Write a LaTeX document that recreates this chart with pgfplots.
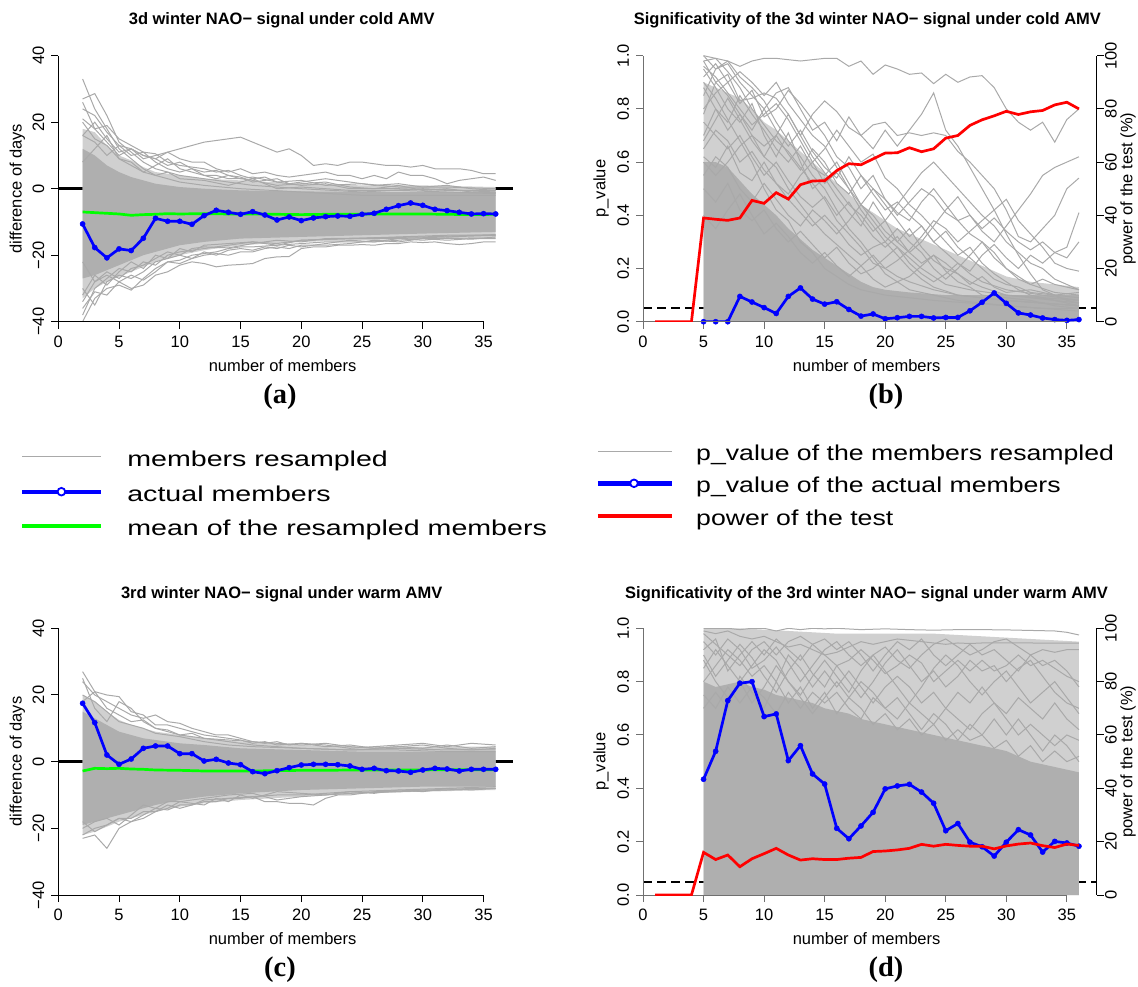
\documentclass[border=0pt]{standalone}
\usepackage{fontspec}
\setmainfont{Liberation Sans}
\newfontfamily\capfont{Liberation Serif}
\usepackage{pgfplots}
\pgfplotsset{compat=1.18}

\definecolor{rgrey}{HTML}{A9A9A9}
\definecolor{rcore}{HTML}{AFAFAF}
\definecolor{rhalo}{HTML}{D0D0D0}
\definecolor{raxis}{HTML}{707070}

\newcommand{\axfont}{\fontsize{8.25}{9.5}\selectfont}
\newcommand{\legfont}{\fontsize{10.75}{12}\selectfont}
\newcommand{\capsize}{\capfont\bfseries\fontsize{14.2}{16}\selectfont}

\pgfplotsset{
  rpanel/.style={
    scale only axis,
    xmin=0, xmax=37.45,
    clip mode=individual,
    axis x line*=bottom, axis y line*=left,
    axis line style={draw=none},
    tick align=outside,
    major tick length=3.5pt,
    tick style={black, line width=0.5pt},
    xtick={0,5,...,35},
    /pgf/number format/assume math mode=true,
    tick label style={font=\axfont},
    yticklabel style={rotate=90, anchor=south},
    label style={font=\axfont},
    title style={font=\axfont\bfseries, anchor=center, yshift=-6pt},
    xlabel={number of members},
  },
  rpower/.style={
    scale only axis,
    xmin=0, xmax=37.45, ymin=0, ymax=100,
    axis x line=none, axis y line*=right,
    axis line style={black, line width=0.5pt},
    tick align=outside,
    major tick length=3.5pt,
    tick style={black, line width=0.5pt},
    ytick={0,20,40,60,80,100},
    /pgf/number format/assume math mode=true,
    tick label style={font=\axfont},
    yticklabel style={rotate=90, anchor=north, inner sep=0.6pt},
    label style={font=\axfont},
    ylabel={power of the test (\%)},
    ylabel style={at={(axis description cs:1.0695,0.5)}, anchor=center},
  },
  members/.style={rgrey, line width=0.5pt, no marks},
  actual/.style={blue, line width=1.35pt, mark=*, mark size=1.3pt,
    mark options={fill=blue, line width=0.2pt}},
  meanline/.style={green, line width=1.35pt, no marks},
  power/.style={red, line width=1.35pt, no marks},
}

\begin{document}
\begin{tikzpicture}
\path[use as bounding box] (0,0) rectangle (569pt,493pt);

% ---------------- (a) ----------------
\begin{axis}[rpanel, at={(29.15pt,332.15pt)}, anchor=south west,
  width=227.5pt, height=133pt, ymin=-40, ymax=40,
  ytick={-40,-20,0,20,40}, yticklabels={−40,−20,0,20,40},
  title={3d winter NAO− signal under cold AMV},
  title style={at={(axis description cs:0.491,1.1316)}},
  ylabel={difference of days},
  ylabel style={at={(axis description cs:-0.0901,0.5)}, anchor=center},
  xlabel style={at={(axis description cs:0.493,-0.1654)}, anchor=center}]
\addplot[black, line width=1.25pt, no marks] coordinates {(0,0) (37.45,0)};
\addplot[fill=rhalo, draw=none] coordinates {
  (2,18) (3,17) (4,13) (5,10) (6,8.5) (7,6.5) (8,5) (9,4.5) (10,4) (12,3)
  (15,2.5) (20,1.5) (25,1) (30,1) (36,0.5)
  (36,-14.5) (30,-15) (25,-15.5) (20,-16) (15,-17) (12,-18.5) (10,-20)
  (8,-22) (7,-23.5) (6,-25) (5,-26.5) (4,-28) (3,-30) (2,-33)};
\addplot[fill=rcore, draw=none] coordinates {
  (2,12) (3,10) (4,7) (5,5) (6,3.5) (7,2.5) (8,1.5) (10,0.5) (12,0)
  (15,-0.5) (20,-0.8) (25,-1) (30,-1) (36,-1)
  (36,-13) (30,-13.5) (25,-14) (20,-14.5) (15,-15) (12,-16) (10,-17)
  (8,-19) (7,-20) (6,-21.5) (5,-23) (4,-24.5) (3,-26) (2,-27)};
\addplot[members] coordinates {(2,33) (3,24) (4,18) (5,12) (6,9) (7,6) (8,4) (10,2) (12,1) (15,0) (20,-1) (25,-2) (30,-2) (36,-2)};
\addplot[members] coordinates {(2,27) (3,28.6) (4,22) (5,14) (6,11) (7,8) (8,6) (9,5) (10,4) (12,3) (14,2) (16,1) (20,0) (25,-1) (30,0) (36,-1)};
\addplot[members] coordinates {(2,26) (3,18) (4,14) (5,10) (6,12) (7,10) (8,9) (9,11) (10,12) (11,13) (12,14) (13,14.5) (14,15) (15,15.5) (16,14) (17,12.5) (18,11) (19,12) (20,10) (21,7) (22,7.5) (23,7) (24,8) (25,8) (26,7.5) (27,7) (28,7) (29,6.5) (30,7) (31,6) (32,6) (33,6) (34,5.5) (35,4.5) (36,4.5)};
\addplot[members] coordinates {(2,16) (3,20) (4,15) (5,11) (6,12) (7,9) (8,10) (9,11) (10,9) (11,8) (12,8) (13,6) (14,5) (15,6) (16,4.5) (17,5) (18,4) (19,3.5) (20,4) (21,4.5) (22,5) (23,4) (24,4) (25,3) (26,4) (27,3) (28,5) (29,4) (30,4) (31,3) (32,1.5) (33,2.5) (34,3) (35,3.5) (36,2.5)};
\addplot[members] coordinates {(2,20) (3,15) (4,13) (5,9) (6,7) (7,5) (8,7) (9,9) (10,6) (11,5) (12,4) (13,3) (14,4) (15,3.5) (16,2) (17,2.5) (18,3) (19,1.5) (20,2) (22,3) (24,2) (26,1) (28,1.5) (30,0.5) (32,1) (34,0) (36,-0.5)};
\addplot[members] coordinates {(2,16) (3,14) (4,10) (5,13) (6,10) (7,11) (8,8) (9,6) (10,5) (11,6) (12,4) (13,4) (14,3) (15,3) (16,2.5) (18,1) (20,1.5) (22,2) (24,0.5) (26,0) (28,1) (30,-0.5) (32,0) (34,-1) (36,-1)};
\addplot[members] coordinates {(2,8) (3,12) (4,16) (5,9) (6,8) (7,5) (8,4) (9,5) (10,3) (12,2.5) (14,1) (16,3) (18,0) (20,0.5) (24,-0.5) (28,-0.5) (32,-1) (36,-1.5)};
\addplot[members] coordinates {(2,24) (3,22) (4,17) (5,13) (6,12) (7,10) (8,9) (9,7) (10,8) (11,6) (12,5) (13,5.5) (14,4) (15,3) (16,3.5) (18,2) (20,2.5) (22,1) (25,1.5) (28,0.5) (32,0.5) (36,0)};
\addplot[members] coordinates {(2,21) (3,18) (4,19) (5,15) (6,13) (7,11) (8,10.5) (9,8) (10,7) (11,6.5) (12,6) (13,5) (14,5.5) (15,4) (16,3) (17,3.5) (18,2) (20,1) (22,1.5) (24,0) (28,0) (32,-0.5) (36,-0.5)};
\addplot[members] coordinates {(2,-40) (3,-33) (4,-30) (5,-29) (6,-30.5) (7,-27) (8,-24) (9,-22) (10,-21.5) (11,-20) (12,-19.5) (13,-19) (14,-18) (15,-17.5) (16,-17.5) (18,-17) (20,-16.5) (22,-16) (24,-16) (26,-16) (28,-15.5) (30,-15) (32,-15.5) (34,-15) (36,-15)};
\addplot[members] coordinates {(2,-36) (3,-31) (4,-32) (5,-28) (6,-30) (7,-29) (8,-26) (9,-25) (10,-23) (11,-22) (12,-22.5) (13,-23.5) (14,-23) (15,-22.8) (16,-22.5) (17,-21) (18,-20.5) (19,-20.4) (20,-18) (21,-17.5) (22,-17.5) (23,-17) (24,-17) (25,-16.8) (26,-17) (27,-16.5) (28,-16.5) (29,-16) (30,-16.2) (31,-16) (32,-16.5) (33,-16.8) (34,-16.5) (35,-16) (36,-16)};
\addplot[members] coordinates {(2,-30) (3,-35) (4,-28) (5,-26) (6,-27) (7,-25) (8,-22) (9,-21) (10,-20) (11,-21) (12,-19) (13,-20) (14,-18.5) (15,-18) (16,-18.5) (17,-17.5) (18,-18) (19,-17) (20,-17.5) (22,-16.5) (24,-15.5) (26,-16) (28,-15) (30,-15.5) (32,-14.8) (34,-15.2) (36,-14.5)};
\addplot[members] coordinates {(2,-38) (3,-30) (4,-27) (5,-24) (6,-25) (7,-22) (8,-23) (9,-20) (10,-19) (12,-18) (14,-17) (16,-16) (18,-16.5) (20,-15.5) (24,-15) (28,-14.5) (32,-14) (36,-14)};
\addplot[members] coordinates {(2,-22) (3,-28) (4,-25) (5,-27) (6,-24) (7,-23) (8,-21) (9,-19) (10,-20) (11,-18) (12,-17.5) (14,-17.8) (16,-16.5) (18,-15.5) (20,-16) (22,-15) (26,-14.8) (30,-14.5) (36,-13.8)};
\addplot[members] coordinates {(2,-32) (3,-26) (4,-29) (5,-25) (6,-22) (7,-24) (8,-20) (9,-21) (10,-18) (11,-19) (12,-17) (14,-16.5) (16,-16) (18,-17) (20,-15.5) (24,-15) (28,-15) (32,-14.5) (36,-14)};
\addplot[members] coordinates {(2,-34) (3,-28) (4,-26) (5,-28) (6,-26) (7,-27.5) (8,-25) (9,-22) (10,-22.5) (11,-21) (12,-20) (13,-19.5) (14,-20) (15,-19) (16,-19) (17,-18) (18,-17.5) (19,-18) (20,-17) (22,-17) (24,-16.5) (26,-15.5) (28,-16) (30,-15) (32,-15) (34,-14.8) (36,-14.8)};
\addplot[meanline] coordinates {(2,-7.0) (3,-7.2) (4,-7.4) (5,-7.6) (6,-8.0) (7,-7.8) (8,-7.7) (9,-7.5) (10,-7.6) (12,-7.5) (14,-7.6) (16,-7.6) (18,-7.7) (20,-7.8) (22,-7.7) (24,-7.7) (26,-7.6) (28,-7.6) (30,-7.6) (32,-7.7) (34,-7.8) (36,-7.7)};
\addplot[actual] coordinates {(2,-10.6) (3,-17.7) (4,-20.8) (5,-18.1) (6,-18.6) (7,-14.9) (8,-8.9) (9,-9.8) (10,-9.8) (11,-10.7) (12,-8.1) (13,-6.5) (14,-7.1) (15,-7.7) (16,-6.9) (17,-7.9) (18,-9.4) (19,-8.5) (20,-9.6) (21,-8.8) (22,-8.4) (23,-8.2) (24,-8.3) (25,-7.7) (26,-7.4) (27,-6.2) (28,-5.1) (29,-4.3) (30,-5.0) (31,-6.2) (32,-6.6) (33,-7.1) (34,-7.6) (35,-7.5) (36,-7.6)};
\draw[black, line width=0.5pt] (axis cs:0,-40) -- (axis cs:0,40);
\draw[black, line width=0.5pt] (axis cs:0,-40) -- (axis cs:35,-40);
\end{axis}

% ---------------- (b) ----------------
\begin{axis}[rpanel, at={(321.5pt,332.15pt)}, anchor=south west,
  width=226.75pt, height=133pt, ymin=0, ymax=1,
  tick style={raxis, line width=0.5pt},
  ytick={0,0.2,0.4,0.6,0.8,1}, yticklabels={0.0,0.2,0.4,0.6,0.8,1.0},
  title={Significativity of the 3d winter NAO− signal under cold AMV},
  title style={at={(axis description cs:0.4948,1.1316)}},
  ylabel={p\_value},
  ylabel style={at={(axis description cs:-0.0926,0.5)}, anchor=center},
  xlabel style={at={(axis description cs:0.493,-0.1654)}, anchor=center}]
\addplot[black, line width=1pt, dash pattern=on 4.5pt off 2.5pt, no marks] coordinates {(0,0.05) (37.45,0.05)};
\addplot[fill=rhalo, draw=none] coordinates {
  (5,0.9) (6,0.88) (7,0.86) (8,0.84) (9,0.8) (10,0.75) (11,0.72) (12,0.68)
  (13,0.64) (14,0.6) (15,0.56) (16,0.52) (17,0.48) (18,0.44) (19,0.41)
  (20,0.38) (21,0.35) (22,0.33) (23,0.31) (24,0.29) (25,0.27) (26,0.25)
  (27,0.23) (28,0.21) (29,0.19) (30,0.17) (32,0.15) (34,0.14) (36,0.13)
  (36,0) (5,0)};
\addplot[fill=rcore, draw=none] coordinates {
  (5,0.6) (6,0.6) (7,0.58) (8,0.53) (9,0.48) (10,0.44) (11,0.4) (12,0.35)
  (13,0.31) (14,0.27) (15,0.24) (16,0.21) (17,0.18) (18,0.15) (19,0.13)
  (20,0.12) (22,0.11) (25,0.1) (28,0.1) (30,0.1) (33,0.1) (36,0.1)
  (36,0) (5,0)};
\addplot[members] coordinates {(5,1.0) (6,0.99) (7,0.98) (8,0.96) (9,0.98) (10,0.99) (11,0.99) (12,0.985) (13,0.98) (14,0.985) (15,0.99) (16,0.99) (17,0.96) (18,0.98) (19,0.93) (20,0.965) (21,0.95) (22,0.93) (23,0.935) (24,0.895) (25,0.93) (26,0.9) (27,0.92) (28,0.925) (29,0.88) (30,0.8) (31,0.75) (32,0.72) (33,0.75) (34,0.675) (35,0.76) (36,0.8)};
\addplot[members] coordinates {(5,1.0) (6,0.95) (7,0.97) (8,0.9) (9,0.85) (10,0.8) (11,0.86) (12,0.88) (13,0.8) (14,0.72) (15,0.75) (16,0.68) (17,0.77) (18,0.7) (19,0.65) (20,0.72) (21,0.66) (22,0.72) (23,0.78) (24,0.86) (25,0.72) (26,0.66) (27,0.58) (28,0.5) (29,0.42) (30,0.33) (31,0.25) (32,0.18) (33,0.12) (34,0.1) (35,0.08) (36,0.07)};
\addplot[members] coordinates {(5,0.98) (6,0.9) (7,0.93) (8,0.83) (9,0.84) (10,0.86) (11,0.84) (12,0.78) (13,0.7) (14,0.78) (15,0.83) (16,0.79) (17,0.73) (18,0.7) (19,0.74) (20,0.75) (21,0.7) (22,0.71) (23,0.7) (24,0.71) (25,0.7) (26,0.64) (27,0.6) (28,0.55) (29,0.5) (30,0.42) (31,0.32) (32,0.3) (33,0.35) (34,0.4) (35,0.5) (36,0.54)};
\addplot[members] coordinates {(5,0.85) (6,0.95) (7,0.98) (8,0.92) (9,0.88) (10,0.83) (11,0.75) (12,0.68) (13,0.62) (14,0.55) (15,0.5) (16,0.42) (17,0.35) (18,0.3) (19,0.24) (20,0.18) (21,0.15) (22,0.12) (24,0.1) (26,0.08) (28,0.07) (30,0.06) (33,0.05) (36,0.05)};
\addplot[members] coordinates {(5,0.95) (6,0.88) (7,0.8) (8,0.75) (9,0.82) (10,0.7) (11,0.62) (12,0.71) (13,0.6) (14,0.5) (15,0.54) (16,0.47) (17,0.41) (18,0.36) (19,0.45) (20,0.38) (21,0.3) (22,0.26) (23,0.22) (24,0.25) (25,0.19) (26,0.15) (27,0.13) (28,0.1) (30,0.09) (32,0.08) (34,0.06) (36,0.05)};
\addplot[members] coordinates {(5,0.8) (6,0.86) (7,0.9) (8,0.82) (9,0.87) (10,0.77) (11,0.8) (12,0.87) (13,0.82) (14,0.76) (15,0.7) (16,0.62) (17,0.58) (18,0.5) (19,0.55) (20,0.46) (21,0.4) (22,0.45) (23,0.5) (24,0.47) (25,0.41) (26,0.38) (27,0.33) (28,0.3) (29,0.26) (30,0.2) (31,0.16) (32,0.14) (34,0.11) (36,0.1)};
\addplot[members] coordinates {(5,0.7) (6,0.8) (7,0.75) (8,0.85) (9,0.78) (10,0.72) (11,0.65) (12,0.6) (13,0.66) (14,0.58) (15,0.55) (16,0.6) (17,0.52) (18,0.44) (19,0.4) (20,0.34) (21,0.3) (22,0.35) (23,0.28) (24,0.23) (25,0.2) (26,0.18) (27,0.15) (28,0.13) (30,0.1) (32,0.09) (34,0.08) (36,0.06)};
\addplot[members] coordinates {(5,0.65) (6,0.72) (7,0.68) (8,0.6) (9,0.64) (10,0.57) (11,0.52) (12,0.48) (13,0.55) (14,0.6) (15,0.65) (16,0.72) (17,0.66) (18,0.6) (19,0.63) (20,0.54) (21,0.5) (22,0.44) (23,0.4) (24,0.35) (25,0.3) (26,0.25) (27,0.28) (28,0.22) (29,0.18) (30,0.15) (31,0.12) (32,0.1) (34,0.08) (36,0.07)};
\addplot[members] coordinates {(5,0.55) (6,0.62) (7,0.58) (8,0.5) (9,0.45) (10,0.52) (11,0.46) (12,0.4) (13,0.36) (14,0.42) (15,0.38) (16,0.33) (17,0.38) (18,0.44) (19,0.5) (20,0.46) (21,0.41) (22,0.38) (23,0.45) (24,0.5) (25,0.44) (26,0.38) (27,0.4) (28,0.34) (29,0.3) (30,0.36) (31,0.42) (32,0.48) (33,0.55) (34,0.58) (35,0.6) (36,0.62)};
\addplot[members] coordinates {(5,0.75) (6,0.7) (7,0.65) (8,0.7) (9,0.62) (10,0.55) (11,0.6) (12,0.53) (13,0.47) (14,0.43) (15,0.47) (16,0.4) (17,0.45) (18,0.38) (19,0.32) (20,0.28) (21,0.32) (22,0.26) (23,0.3) (24,0.36) (25,0.42) (26,0.47) (27,0.4) (28,0.35) (29,0.39) (30,0.34) (31,0.3) (32,0.27) (33,0.3) (34,0.26) (35,0.28) (36,0.41)};
\addplot[members] coordinates {(5,0.6) (6,0.55) (7,0.6) (8,0.66) (9,0.7) (10,0.62) (11,0.58) (12,0.5) (13,0.44) (14,0.38) (15,0.33) (16,0.29) (17,0.25) (18,0.21) (19,0.25) (20,0.2) (21,0.23) (22,0.27) (23,0.32) (24,0.38) (25,0.35) (26,0.3) (27,0.34) (28,0.38) (29,0.42) (30,0.46) (31,0.38) (32,0.33) (33,0.28) (34,0.22) (35,0.2) (36,0.19)};
\addplot[members] coordinates {(5,0.9) (6,0.84) (7,0.76) (8,0.68) (9,0.6) (10,0.5) (11,0.42) (12,0.38) (13,0.3) (14,0.26) (15,0.2) (16,0.17) (17,0.14) (18,0.12) (20,0.1) (22,0.09) (24,0.08) (27,0.07) (30,0.06) (33,0.05) (36,0.04)};
\addplot[members] coordinates {(5,0.5) (6,0.45) (7,0.52) (8,0.42) (9,0.38) (10,0.42) (11,0.35) (12,0.3) (13,0.34) (14,0.29) (15,0.24) (16,0.28) (17,0.22) (18,0.18) (19,0.2) (20,0.24) (21,0.28) (22,0.22) (23,0.18) (24,0.15) (25,0.18) (26,0.22) (27,0.19) (28,0.25) (29,0.29) (30,0.24) (31,0.2) (32,0.25) (33,0.22) (34,0.26) (35,0.24) (36,0.3)};
\addplot[members] coordinates {(5,0.4) (6,0.35) (7,0.42) (8,0.48) (9,0.4) (10,0.33) (11,0.37) (12,0.32) (13,0.26) (14,0.22) (15,0.26) (16,0.21) (17,0.17) (18,0.21) (19,0.16) (20,0.13) (21,0.15) (22,0.17) (23,0.21) (24,0.25) (25,0.22) (26,0.18) (27,0.14) (28,0.17) (29,0.13) (30,0.11) (32,0.12) (34,0.1) (36,0.11)};
\addplot[members] coordinates {(5,0.88) (6,0.8) (7,0.72) (8,0.78) (9,0.7) (10,0.66) (11,0.7) (12,0.63) (13,0.57) (14,0.65) (15,0.6) (16,0.52) (17,0.48) (18,0.55) (19,0.48) (20,0.42) (21,0.45) (22,0.4) (23,0.36) (24,0.3) (25,0.34) (26,0.28) (27,0.24) (28,0.2) (29,0.16) (30,0.14) (31,0.13) (32,0.11) (34,0.1) (36,0.09)};
\addplot[members] coordinates {(5,0.98) (6,0.99) (7,0.94) (8,0.88) (9,0.8) (10,0.74) (11,0.68) (12,0.64) (13,0.58) (14,0.52) (15,0.46) (16,0.38) (17,0.33) (18,0.28) (19,0.22) (20,0.2) (21,0.17) (22,0.15) (24,0.12) (26,0.1) (28,0.09) (30,0.08) (33,0.07) (36,0.06)};
\addplot[members] coordinates {(5,0.62) (6,0.58) (7,0.66) (8,0.56) (9,0.53) (10,0.6) (11,0.52) (12,0.46) (13,0.41) (14,0.36) (15,0.4) (16,0.35) (17,0.29) (18,0.25) (19,0.28) (20,0.3) (21,0.35) (22,0.3) (23,0.26) (24,0.2) (25,0.16) (26,0.2) (27,0.25) (28,0.3) (29,0.24) (30,0.2) (31,0.17) (32,0.14) (33,0.16) (34,0.14) (35,0.13) (36,0.12)};
\addplot[members] coordinates {(5,0.92) (6,0.97) (7,0.9) (8,0.94) (9,0.9) (10,0.85) (11,0.9) (12,0.82) (13,0.76) (14,0.7) (15,0.66) (16,0.58) (17,0.5) (18,0.42) (19,0.36) (20,0.3) (21,0.25) (22,0.2) (23,0.16) (24,0.13) (26,0.1) (30,0.08) (36,0.06)};
\addplot[members] coordinates {(5,0.78) (6,0.9) (7,0.85) (8,0.78) (9,0.72) (10,0.8) (11,0.72) (12,0.66) (13,0.72) (14,0.64) (15,0.58) (16,0.54) (17,0.62) (18,0.55) (19,0.5) (20,0.44) (21,0.38) (22,0.32) (23,0.36) (24,0.3) (25,0.26) (26,0.22) (27,0.18) (28,0.15) (30,0.12) (33,0.1) (36,0.08)};
\addplot[members] coordinates {(5,0.68) (6,0.76) (7,0.84) (8,0.76) (9,0.68) (10,0.62) (11,0.7) (12,0.78) (13,0.7) (14,0.62) (15,0.56) (16,0.5) (17,0.44) (18,0.4) (19,0.34) (20,0.38) (21,0.44) (22,0.5) (23,0.56) (24,0.6) (25,0.55) (26,0.5) (27,0.45) (28,0.4) (29,0.36) (30,0.3) (31,0.26) (32,0.22) (33,0.2) (34,0.16) (36,0.12)};
\addplot[members] coordinates {(5,0.96) (6,0.92) (7,0.86) (8,0.8) (9,0.74) (10,0.78) (11,0.82) (12,0.76) (13,0.68) (14,0.6) (15,0.52) (16,0.56) (17,0.5) (18,0.44) (19,0.38) (20,0.32) (21,0.28) (22,0.24) (23,0.2) (24,0.17) (25,0.14) (27,0.12) (30,0.1) (36,0.08)};
\addplot[actual] coordinates {(5,0) (6,0) (7,0) (8,0.095) (9,0.074) (10,0.053) (11,0.031) (12,0.095) (13,0.127) (14,0.085) (15,0.066) (16,0.075) (17,0.046) (18,0.021) (19,0.029) (20,0.011) (21,0.015) (22,0.020) (23,0.020) (24,0.014) (25,0.016) (26,0.016) (27,0.041) (28,0.073) (29,0.108) (30,0.069) (31,0.033) (32,0.025) (33,0.014) (34,0.008) (35,0.005) (36,0.008)};
\draw[raxis, line width=0.5pt] (axis cs:0,0) -- (axis cs:0,1);
\draw[raxis, line width=0.5pt] (axis cs:0,0) -- (axis cs:35,0);
\end{axis}
\begin{axis}[rpower, at={(321.5pt,332.15pt)}, anchor=south west,
  width=226.75pt, height=133pt]
\addplot[power] coordinates {(1,0) (2,0) (3,0) (4,0) (5,39) (6,38.5) (7,38.1) (8,39) (9,45.6) (10,44.5) (11,48.5) (12,46.1) (13,51.5) (14,52.9) (15,53) (16,56.8) (17,59.4) (18,59) (19,61.2) (20,63.4) (21,63.5) (22,65.4) (23,63.9) (24,65) (25,69) (26,70) (27,73.8) (28,75.9) (29,77.4) (30,79.1) (31,77.9) (32,78.9) (33,79.4) (34,81.5) (35,82.5) (36,80)};
\end{axis}

% ---------------- (c) ----------------
\begin{axis}[rpanel, at={(29.15pt,45.5pt)}, anchor=south west,
  width=227.5pt, height=133.35pt, ymin=-40, ymax=40,
  ytick={-40,-20,0,20,40}, yticklabels={−40,−20,0,20,40},
  title={3rd winter NAO− signal under warm AMV},
  title style={at={(axis description cs:0.491,1.1286)}},
  ylabel={difference of days},
  ylabel style={at={(axis description cs:-0.0901,0.5)}, anchor=center},
  xlabel style={at={(axis description cs:0.493,-0.162)}, anchor=center}]
\addplot[black, line width=1.25pt, no marks] coordinates {(0,0) (37.45,0)};
\addplot[fill=rhalo, draw=none] coordinates {
  (2,20) (3,18) (4,15) (5,12.5) (6,11) (7,10) (8,9) (10,8) (12,7) (15,6)
  (20,5) (25,4.5) (30,4.5) (36,4.5)
  (36,-8.5) (30,-9) (25,-9.5) (20,-10.5) (15,-11.5) (12,-12.5) (10,-13.5)
  (8,-15) (7,-16) (6,-17) (5,-18) (4,-19.5) (3,-21) (2,-22)};
\addplot[fill=rcore, draw=none] coordinates {
  (2,15) (3,13) (4,11) (5,9) (6,8) (7,7) (8,6.5) (10,5.5) (12,5) (15,4)
  (20,3.5) (25,3) (30,3) (36,3)
  (36,-7.5) (30,-7.5) (25,-8) (20,-8.5) (15,-9.5) (12,-10.5) (10,-11.5)
  (8,-13) (7,-14) (6,-15) (5,-16) (4,-17) (3,-18) (2,-19)};
\addplot[members] coordinates {(2,27) (3,21) (4,20) (5,19.5) (6,15) (7,14) (8,11) (9,11) (10,10) (11,9) (12,8) (13,7.5) (14,7) (15,6.5) (16,5.5) (17,6) (18,5) (20,5.5) (22,5) (24,4) (26,4.5) (28,5) (30,5.5) (32,4.5) (34,5.5) (36,5)};
\addplot[members] coordinates {(2,24) (3,20) (4,18) (5,16) (6,14) (7,13) (8,14) (9,12) (10,11.5) (11,10) (12,9) (13,8) (14,8) (15,7) (16,6) (17,5.5) (18,6) (19,5) (20,5.5) (22,4.5) (24,5) (26,4) (28,4.5) (30,4) (32,5) (34,4) (36,4.5)};
\addplot[members] coordinates {(2,25) (3,16) (4,12) (5,18) (6,16) (7,12) (8,10) (9,9) (10,8) (12,7) (14,6) (16,5) (18,4.5) (20,4) (24,3.5) (28,4) (32,3.5) (36,3.5)};
\addplot[members] coordinates {(2,20) (3,18) (4,15) (5,12) (6,11) (7,10) (8,8.5) (10,7.5) (12,6) (14,5) (16,4.5) (20,4) (24,3.5) (28,3.5) (32,3) (36,3)};
\addplot[members] coordinates {(2,18) (3,21) (4,16) (5,14) (6,12) (7,12.5) (8,10) (9,9.5) (10,8) (11,8.5) (12,7) (14,6.5) (16,6) (18,5.5) (20,5) (22,5.5) (24,4.5) (26,4) (28,4.5) (30,5) (32,4) (34,3.5) (36,4)};
\addplot[members] coordinates {(2,-23) (3,-22) (4,-26) (5,-20) (6,-18) (7,-16) (8,-14) (9,-14.5) (10,-13) (11,-13) (12,-12) (13,-12) (14,-11) (15,-11) (16,-10.5) (17,-12) (18,-12) (19,-12.5) (20,-12.5) (21,-13) (22,-11) (23,-10) (24,-10) (25,-9.5) (26,-9) (28,-9) (30,-8.5) (32,-8.5) (34,-8) (36,-8)};
\addplot[members] coordinates {(2,-22) (3,-20) (4,-19) (5,-17) (6,-17) (7,-15) (8,-15) (9,-13) (10,-14) (11,-13) (12,-11.5) (14,-11) (16,-10.5) (18,-10) (20,-10) (22,-9.5) (24,-9) (28,-8.5) (32,-8) (36,-7.5)};
\addplot[members] coordinates {(2,-20) (3,-18) (4,-17) (5,-19) (6,-16) (7,-13) (8,-14) (9,-12) (10,-12) (12,-11) (14,-10) (16,-9.5) (18,-11.5) (20,-10.5) (24,-9.5) (28,-9) (32,-8.5) (36,-8)};
\addplot[members] coordinates {(2,-18) (3,-21) (4,-19) (5,-17) (6,-18) (7,-17) (8,-15) (9,-14) (10,-12) (11,-12.5) (12,-13) (13,-11) (14,-12) (15,-10) (16,-11) (17,-10) (18,-9) (20,-9.5) (22,-10) (24,-9) (26,-9.5) (28,-8.5) (30,-9) (32,-8) (34,-8.5) (36,-8)};
\addplot[meanline] coordinates {(2,-2.8) (3,-2.0) (4,-2.1) (5,-2.0) (6,-2.2) (7,-2.3) (8,-2.5) (10,-2.6) (12,-2.8) (14,-2.8) (16,-2.8) (18,-2.7) (20,-2.6) (22,-2.6) (24,-2.5) (26,-2.5) (28,-2.5) (30,-2.5) (32,-2.4) (34,-2.4) (36,-2.4)};
\addplot[actual] coordinates {(2,17.5) (3,11.7) (4,2.0) (5,-0.8) (6,0.8) (7,4.0) (8,4.7) (9,4.7) (10,2.4) (11,2.4) (12,0.2) (13,0.7) (14,-0.4) (15,-0.9) (16,-3.0) (17,-3.6) (18,-2.7) (19,-1.8) (20,-1.0) (21,-0.8) (22,-0.8) (23,-0.9) (24,-1.3) (25,-2.3) (26,-2.0) (27,-2.7) (28,-2.8) (29,-3.2) (30,-2.5) (31,-2.0) (32,-2.2) (33,-2.8) (34,-2.3) (35,-2.3) (36,-2.3)};
\draw[black, line width=0.5pt] (axis cs:0,-40) -- (axis cs:0,40);
\draw[black, line width=0.5pt] (axis cs:0,-40) -- (axis cs:35,-40);
\end{axis}

% ---------------- (d) ----------------
\begin{axis}[rpanel, at={(321.5pt,45.5pt)}, anchor=south west,
  width=226.75pt, height=133.35pt, ymin=0, ymax=1,
  tick style={raxis, line width=0.5pt},
  ytick={0,0.2,0.4,0.6,0.8,1}, yticklabels={0.0,0.2,0.4,0.6,0.8,1.0},
  title={Significativity of the 3rd winter NAO− signal under warm AMV},
  title style={at={(axis description cs:0.493,1.1286)}},
  ylabel={p\_value},
  ylabel style={at={(axis description cs:-0.0926,0.5)}, anchor=center},
  xlabel style={at={(axis description cs:0.493,-0.162)}, anchor=center}]
\addplot[black, line width=1pt, dash pattern=on 4.5pt off 2.5pt, no marks] coordinates {(0,0.05) (37.45,0.05)};
\addplot[fill=rhalo, draw=none] coordinates {
  (5,1.0) (8,1.0) (12,0.99) (16,0.98) (20,0.98) (24,0.98) (28,0.97)
  (32,0.96) (36,0.95) (36,0) (5,0)};
\addplot[fill=rcore, draw=none] coordinates {
  (5,0.8) (6,0.78) (7,0.79) (8,0.8) (9,0.78) (10,0.77) (11,0.75) (12,0.74)
  (13,0.73) (14,0.72) (15,0.7) (16,0.69) (17,0.68) (18,0.66) (19,0.65)
  (20,0.64) (22,0.62) (24,0.6) (26,0.58) (28,0.56) (30,0.54) (32,0.5)
  (34,0.48) (36,0.46) (36,0) (5,0)};
\addplot[members] coordinates {(5,1.0) (6,1.0) (7,1.0) (8,0.995) (9,1.0) (10,1.0) (11,0.99) (12,1.0) (13,0.995) (14,1.0) (15,0.998) (16,1.0) (18,0.995) (20,0.998) (22,0.995) (24,0.993) (26,0.995) (28,0.995) (30,0.994) (32,0.992) (34,0.99) (35,0.985) (36,0.975)};
\addplot[members] coordinates {(5,0.99) (6,0.98) (7,0.99) (8,0.97) (9,0.96) (10,0.97) (11,0.95) (12,0.93) (13,0.94) (14,0.92) (15,0.9) (16,0.91) (17,0.93) (18,0.95) (19,0.94) (20,0.95) (21,0.96) (22,0.955) (23,0.95) (24,0.945) (25,0.94) (26,0.945) (27,0.943) (28,0.945) (30,0.945) (32,0.945) (34,0.944) (36,0.944)};
\addplot[members] coordinates {(5,0.95) (6,0.9) (7,0.96) (8,0.92) (9,0.85) (10,0.88) (11,0.93) (12,0.87) (13,0.8) (14,0.86) (15,0.92) (16,0.95) (17,0.9) (18,0.86) (19,0.9) (20,0.93) (21,0.88) (22,0.85) (23,0.9) (24,0.94) (25,0.96) (26,0.93) (27,0.9) (28,0.92) (29,0.95) (30,0.96) (31,0.93) (32,0.9) (33,0.92) (34,0.91) (35,0.92) (36,0.92)};
\addplot[members] coordinates {(5,0.9) (6,0.82) (7,0.88) (8,0.94) (9,0.89) (10,0.82) (11,0.76) (12,0.84) (13,0.9) (14,0.83) (15,0.78) (16,0.86) (17,0.8) (18,0.74) (19,0.8) (20,0.87) (21,0.92) (22,0.86) (23,0.8) (24,0.84) (25,0.78) (26,0.82) (27,0.88) (28,0.84) (29,0.86) (30,0.8) (31,0.85) (32,0.88) (33,0.82) (34,0.76) (35,0.72) (36,0.7)};
\addplot[members] coordinates {(5,0.85) (6,0.92) (7,0.86) (8,0.8) (9,0.86) (10,0.92) (11,0.88) (12,0.8) (13,0.75) (14,0.82) (15,0.88) (16,0.82) (17,0.76) (18,0.84) (19,0.9) (20,0.84) (21,0.78) (22,0.72) (23,0.78) (24,0.85) (25,0.9) (26,0.86) (27,0.8) (28,0.75) (29,0.8) (30,0.84) (31,0.78) (32,0.72) (33,0.76) (34,0.8) (35,0.74) (36,0.68)};
\addplot[members] coordinates {(5,0.98) (6,0.94) (7,0.9) (8,0.86) (9,0.92) (10,0.95) (11,0.9) (12,0.95) (13,0.97) (14,0.94) (15,0.9) (16,0.86) (17,0.88) (18,0.92) (19,0.88) (20,0.83) (21,0.86) (22,0.9) (23,0.87) (24,0.8) (25,0.84) (26,0.88) (27,0.84) (28,0.88) (29,0.84) (30,0.86) (31,0.9) (32,0.86) (33,0.88) (34,0.85) (35,0.82) (36,0.8)};
\addplot[members] coordinates {(5,0.8) (6,0.86) (7,0.92) (8,0.88) (9,0.82) (10,0.86) (11,0.8) (12,0.9) (13,0.85) (14,0.78) (15,0.84) (16,0.78) (17,0.84) (18,0.78) (19,0.72) (20,0.78) (21,0.82) (22,0.78) (23,0.72) (24,0.76) (25,0.7) (26,0.76) (27,0.72) (28,0.78) (29,0.72) (30,0.68) (31,0.74) (32,0.7) (33,0.66) (34,0.72) (35,0.66) (36,0.62)};
\addplot[members] coordinates {(5,0.92) (6,0.96) (7,0.84) (8,0.9) (9,0.95) (10,0.9) (11,0.96) (12,0.92) (13,0.88) (14,0.94) (15,0.96) (16,0.92) (17,0.95) (18,0.9) (19,0.84) (20,0.9) (21,0.95) (22,0.92) (23,0.96) (24,0.9) (25,0.86) (26,0.9) (27,0.94) (28,0.9) (29,0.92) (30,0.88) (31,0.84) (32,0.9) (33,0.86) (34,0.88) (35,0.84) (36,0.78)};
\addplot[members] coordinates {(5,0.75) (6,0.7) (7,0.78) (8,0.72) (9,0.78) (10,0.74) (11,0.68) (12,0.76) (13,0.7) (14,0.76) (15,0.72) (16,0.76) (17,0.7) (18,0.66) (19,0.74) (20,0.7) (21,0.66) (22,0.72) (23,0.68) (24,0.64) (25,0.7) (26,0.66) (27,0.62) (28,0.68) (29,0.72) (30,0.66) (31,0.6) (32,0.64) (33,0.6) (34,0.56) (35,0.6) (36,0.58)};
\addplot[members] coordinates {(5,0.7) (6,0.76) (7,0.7) (8,0.82) (9,0.76) (10,0.7) (11,0.8) (12,0.72) (13,0.78) (14,0.7) (15,0.76) (16,0.68) (17,0.74) (18,0.7) (19,0.64) (20,0.68) (21,0.62) (22,0.66) (23,0.6) (24,0.64) (25,0.58) (26,0.62) (27,0.58) (28,0.6) (29,0.55) (30,0.58) (31,0.52) (32,0.56) (33,0.5) (34,0.54) (35,0.5) (36,0.52)};
\addplot[members] coordinates {(5,0.88) (6,0.8) (7,0.74) (8,0.8) (9,0.72) (10,0.78) (11,0.86) (12,0.8) (13,0.74) (14,0.68) (15,0.74) (16,0.8) (17,0.74) (18,0.8) (19,0.76) (20,0.7) (21,0.74) (22,0.68) (23,0.62) (24,0.68) (25,0.64) (26,0.58) (27,0.64) (28,0.6) (29,0.66) (30,0.6) (31,0.66) (32,0.6) (33,0.54) (34,0.6) (35,0.56) (36,0.5)};
\addplot[actual] coordinates {(5,0.434) (6,0.539) (7,0.729) (8,0.794) (9,0.800) (10,0.669) (11,0.679) (12,0.504) (13,0.560) (14,0.454) (15,0.416) (16,0.250) (17,0.211) (18,0.259) (19,0.310) (20,0.398) (21,0.409) (22,0.415) (23,0.386) (24,0.344) (25,0.241) (26,0.268) (27,0.198) (28,0.181) (29,0.146) (30,0.198) (31,0.245) (32,0.225) (33,0.161) (34,0.201) (35,0.195) (36,0.183)};
\draw[raxis, line width=0.5pt] (axis cs:0,0) -- (axis cs:0,1);
\draw[raxis, line width=0.5pt] (axis cs:0,0) -- (axis cs:35,0);
\end{axis}
\begin{axis}[rpower, at={(321.5pt,45.5pt)}, anchor=south west,
  width=226.75pt, height=133.35pt]
\addplot[power] coordinates {(1,0) (2,0) (3,0) (4,0) (5,16) (6,13.3) (7,15) (8,10.6) (9,13.6) (10,15.5) (11,17.5) (12,15) (13,13.1) (14,13.6) (15,13.3) (16,13.3) (17,13.8) (18,14.1) (19,16.3) (20,16.5) (21,16.9) (22,17.5) (23,19) (24,18.3) (25,19) (26,18.6) (27,18.3) (28,18.3) (29,17.3) (30,18.4) (31,19.1) (32,19.5) (33,18.5) (34,17.8) (35,19.1) (36,18.6)};
\end{axis}

% ---------------- captions ----------------
\node[font=\capsize] at (140pt,294.65pt) {(a)};
\node[font=\capsize] at (443pt,294.65pt) {(b)};
\node[font=\capsize] at (140pt,8pt) {(c)};
\node[font=\capsize] at (443pt,8pt) {(d)};

% ---------------- legends ----------------
\draw[rgrey, line width=0.75pt] (11pt,264.65pt) -- (50.5pt,264.65pt);
\draw[blue, line width=2.2pt] (11pt,247.15pt) -- (50.5pt,247.15pt);
\draw[blue, line width=0.9pt, fill=white] (30.7pt,247.15pt) circle (1.9pt);
\draw[green, line width=2.2pt] (11pt,230pt) -- (50.5pt,230pt);
\node[anchor=base west, font=\legfont, xscale=1.33, inner sep=0pt] at (63.4pt,260pt) {members resampled};
\node[anchor=base west, font=\legfont, xscale=1.33, inner sep=0pt] at (63.4pt,242.5pt) {actual members};
\node[anchor=base west, font=\legfont, xscale=1.33, inner sep=0pt] at (63.4pt,225.35pt) {mean of the resampled members};

\draw[rgrey, line width=0.75pt] (298.9pt,267.15pt) -- (335.9pt,267.15pt);
\draw[blue, line width=2.2pt] (298.9pt,251.35pt) -- (335.9pt,251.35pt);
\draw[blue, line width=0.9pt, fill=white] (317pt,251.35pt) circle (1.9pt);
\draw[red, line width=2.2pt] (298.9pt,235pt) -- (335.9pt,235pt);
\node[anchor=base west, font=\legfont, xscale=1.24, inner sep=0pt] at (347.85pt,262.5pt) {p\_value of the members resampled};
\node[anchor=base west, font=\legfont, xscale=1.24, inner sep=0pt] at (347.85pt,246.7pt) {p\_value of the actual members};
\node[anchor=base west, font=\legfont, xscale=1.24, inner sep=0pt] at (347.85pt,230.35pt) {power of the test};
\end{tikzpicture}
\end{document}
